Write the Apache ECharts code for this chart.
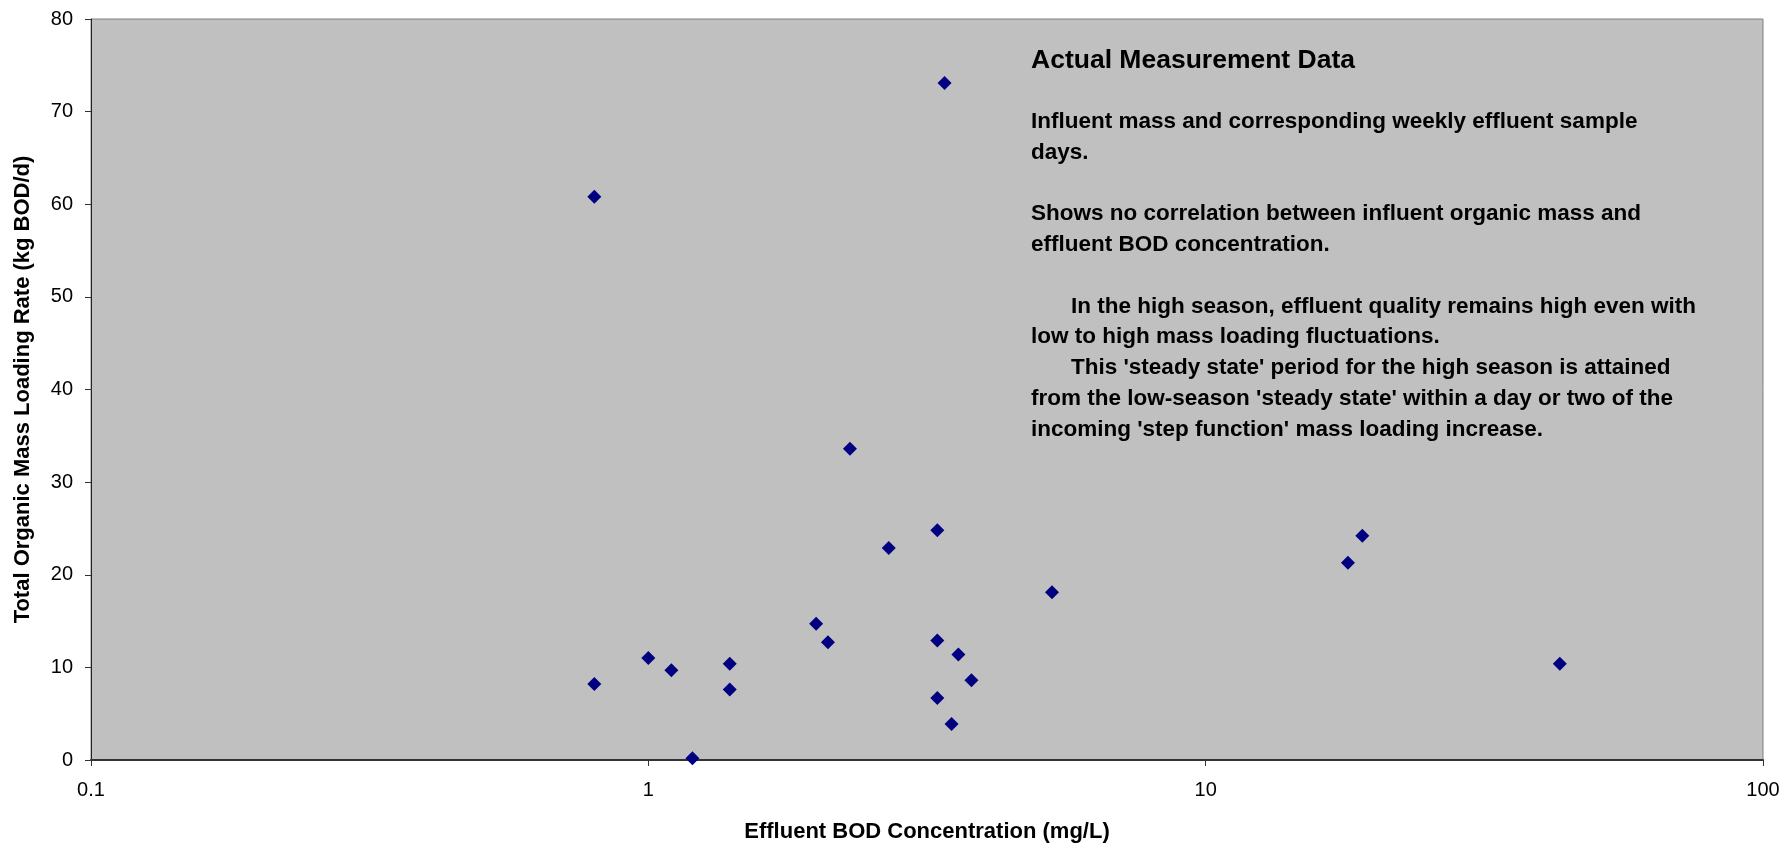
<!DOCTYPE html>
<html>
<head>
<meta charset="utf-8">
<title>Effluent BOD vs Organic Mass Loading</title>
<script src="https://cdn.jsdelivr.net/npm/echarts@6/dist/echarts.min.js"></script>
<style>
  html, body { margin: 0; padding: 0; background: #ffffff; }
  #chart { width: 1785px; height: 848px; }
</style>
</head>
<body>
<div id="chart"></div>
<script>
// Effluent BOD concentration (mg/L) for each weekly sample day
const effluentBOD = [0.8, 0.8, 1.0, 1.1, 1.2, 1.4, 1.4, 2.0, 2.1, 2.3, 2.7, 3.3, 3.3, 3.3, 3.4, 3.5, 3.6, 3.8, 5.3, 18.0, 19.1, 43.2];
// Total organic mass loading rate (kg BOD/d) on the same days
const massLoading = [60.8, 8.2, 11.0, 9.7, 0.2, 10.4, 7.6, 14.7, 12.7, 33.6, 22.9, 24.8, 12.9, 6.7, 73.1, 3.9, 11.4, 8.6, 18.1, 21.3, 24.2, 10.4];

const xTickLabels = ['0.1', '1', '10', '100'];
const yTickLabels = ['0', '10', '20', '30', '40', '50', '60', '70', '80'];

const xTitle = 'Effluent BOD Concentration (mg/L)';
const yTitle = 'Total Organic Mass Loading Rate (kg BOD/d)';

const noteTitle = 'Actual Measurement Data';
const noteLines = [
  'Influent mass and corresponding weekly effluent sample',
  'days.',
  '',
  'Shows no correlation between influent organic mass and',
  'effluent BOD concentration.',
  '',
  'In the high season, effluent quality remains high even with',
  'low to high mass loading fluctuations.',
  "This 'steady state' period for the high season is attained",
  "from the low-season 'steady state' within a day or two of the",
  "incoming 'step function' mass loading increase."
];
// lines that open an indented paragraph
const indentedLines = [6, 8];

const points = effluentBOD.map((x, i) => [x, massLoading[i]]);

const FONT = '"Liberation Sans", Arial, sans-serif';
const noteX = 1031;
const noteTop = 121.5;
const noteStep = 30.8;

const graphics = [{
  type: 'text',
  x: noteX,
  y: 60.5,
  style: { text: noteTitle, font: 'bold 26.5px ' + FONT, fill: '#000000', verticalAlign: 'middle' },
  z: 10
}];
noteLines.forEach((line, i) => {
  if (!line) return;
  graphics.push({
    type: 'text',
    x: noteX + (indentedLines.includes(i) ? 40 : 0),
    y: noteTop + i * noteStep,
    style: {
      text: line,
      font: 'bold 22.5px ' + FONT,
      fill: '#000000',
      verticalAlign: 'middle'
    },
    z: 10
  });
});

const chart = echarts.init(document.getElementById('chart'), null, { renderer: 'canvas' });
chart.setOption({
  backgroundColor: '#ffffff',
  animation: false,
  textStyle: { fontFamily: FONT },
  grid: {
    left: 91, top: 19, right: 22, bottom: 87,
    show: true,
    backgroundColor: '#c0c0c0',
    borderColor: '#808080',
    borderWidth: 1
  },
  xAxis: {
    type: 'log',
    logBase: 10,
    min: 0.1,
    max: 100,
    name: xTitle,
    nameLocation: 'middle',
    nameGap: 61,
    nameTextStyle: { fontFamily: FONT, fontSize: 22, fontWeight: 'bold', color: '#000' },
    axisLine: { show: true, lineStyle: { color: '#333333', width: 2 } },
    axisTick: { show: true, inside: false, length: 6, lineStyle: { color: '#333333', width: 1 } },
    minorTick: { show: false },
    splitLine: { show: false },
    axisLabel: {
      margin: 20,
      fontFamily: FONT,
      fontSize: 20,
      color: '#000',
      formatter: (v) => {
        const k = Math.round(Math.log10(v)) + 1;
        return xTickLabels[k] !== undefined ? xTickLabels[k] : '';
      }
    }
  },
  yAxis: {
    type: 'value',
    min: 0,
    max: 80,
    interval: 10,
    name: yTitle,
    nameLocation: 'middle',
    nameGap: 57,
    nameTextStyle: { fontFamily: FONT, fontSize: 22, fontWeight: 'bold', color: '#000' },
    axisLine: { show: true, lineStyle: { color: '#222222', width: 1 } },
    axisTick: { show: true, inside: false, length: 6, lineStyle: { color: '#333333', width: 1 } },
    splitLine: { show: false },
    axisLabel: {
      margin: 18,
      fontFamily: FONT,
      fontSize: 20,
      color: '#000',
      formatter: (v) => yTickLabels[Math.round(v / 10)]
    }
  },
  series: [{
    type: 'scatter',
    data: points,
    symbol: 'diamond',
    symbolSize: 14,
    itemStyle: { color: '#000080', opacity: 1 },
    emphasis: { disabled: true }
  }],
  graphic: graphics
});
</script>
</body>
</html>
